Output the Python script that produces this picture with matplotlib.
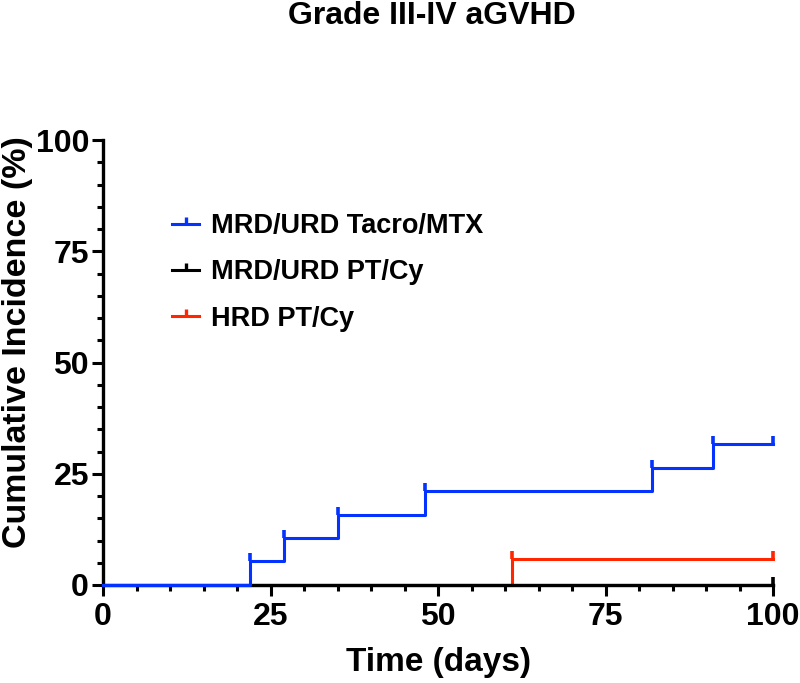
import matplotlib
matplotlib.use('Agg')
import matplotlib.pyplot as plt
from matplotlib.path import Path
from matplotlib.lines import Line2D

plt.rcParams['font.family'] = ['Liberation Sans', 'DejaVu Sans']
plt.rcParams['font.weight'] = 'bold'

# step data (days, cumulative incidence %)
tacro_x = [0, 22, 27, 35, 48, 82, 91, 100]
tacro_y = [0, 5.3, 10.5, 15.8, 21.1, 26.3, 31.6, 31.6]
tacro_cens_x = [22, 27, 35, 48, 82, 91, 100]
tacro_cens_y = [5.3, 10.5, 15.8, 21.1, 26.3, 31.6, 31.6]

ptcy_x = [0, 100]
ptcy_y = [0, 0]
ptcy_cens_x = [100]
ptcy_cens_y = [0]

hrd_x = [0, 61, 100]
hrd_y = [0, 5.9, 5.9]
hrd_cens_x = [61, 100]
hrd_cens_y = [5.9, 5.9]

labels = ['MRD/URD Tacro/MTX', 'MRD/URD PT/Cy', 'HRD PT/Cy']
colors = ['#0433FF', 'black', '#FF2600']

# upward censor tick
tick = Path([(0, 0), (0, 1)], [Path.MOVETO, Path.LINETO])

fig = plt.figure(figsize=(8, 6.83), dpi=100)
ax = fig.add_axes([103/800, 1-585/683, 670/800, 445/683])

# black and red sit under the x axis line, blue on top (as in the original)
series = [(ptcy_x, ptcy_y, ptcy_cens_x, ptcy_cens_y, colors[1], 2),
          (hrd_x, hrd_y, hrd_cens_x, hrd_cens_y, colors[2], 2),
          (tacro_x, tacro_y, tacro_cens_x, tacro_cens_y, colors[0], 3)]
for x, y, cx, cy, c, z in series:
    ax.step(x, y, where='post', color=c, lw=2.2, clip_on=False, zorder=z)
    ax.plot(cx, cy, ls='none', marker=tick, ms=12, mew=2.6, color=c,
            clip_on=False, zorder=3)

ax.set_xlim(0, 100)
ax.set_ylim(0, 100)
ax.set_xticks([0, 25, 50, 75, 100])
ax.set_yticks([0, 25, 50, 75, 100])
ax.set_xticks(range(0, 101, 5), minor=True)
ax.set_yticks(range(0, 101, 5), minor=True)
ax.tick_params(which='major', length=8, width=2.2, labelsize=23, pad=4)
ax.tick_params(which='minor', length=4.5, width=2.2)
ax.tick_params(axis='y', which='major', pad=2)
for s in ['top', 'right']:
    ax.spines[s].set_visible(False)
for s in ['left', 'bottom']:
    ax.spines[s].set_linewidth(2.4)

ax.set_xlabel('Time (days)', fontsize=24, fontweight='bold')
ax.xaxis.set_label_coords(0.5, -0.14)
ax.set_ylabel('Cumulative Incidence (%)', fontsize=24.5, fontweight='bold', va='center')
ax.yaxis.set_label_coords(-0.128, 0.545)

fig.text(432/800, 1-16/683, 'Grade III-IV aGVHD', fontsize=23, fontweight='bold',
         ha='center', va='center')

handles = [Line2D([], [], color=c, lw=2.2, marker=tick, ms=10, mew=2.4) for c in colors]
ax.legend(handles, labels, loc='upper left', bbox_to_anchor=(172/800, 1-213/683),
          bbox_transform=fig.transFigure, frameon=False, fontsize=19.5,
          handlelength=1.0, handletextpad=0.45, labelspacing=0.75,
          borderpad=0, borderaxespad=0, numpoints=1)

fig.savefig('out.png', dpi=100)
